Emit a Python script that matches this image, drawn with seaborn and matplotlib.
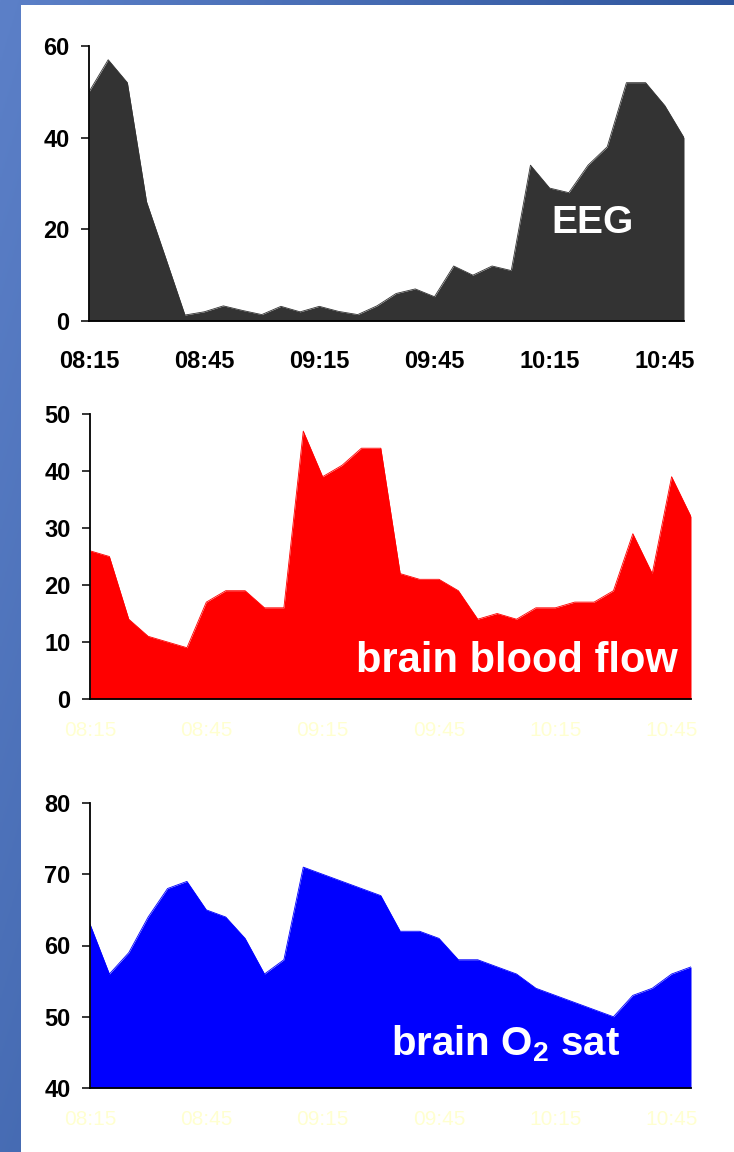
import numpy as np
import matplotlib
matplotlib.use("Agg")
import matplotlib.pyplot as plt
from matplotlib.patches import Rectangle
import pandas as pd
import seaborn as sns

# 5-minute samples, 08:15 .. 10:50
times = [
    "08:15", "08:20", "08:25", "08:30", "08:35", "08:40", "08:45", "08:50",
    "08:55", "09:00", "09:05", "09:10", "09:15", "09:20", "09:25", "09:30",
    "09:35", "09:40", "09:45", "09:50", "09:55", "10:00", "10:05", "10:10",
    "10:15", "10:20", "10:25", "10:30", "10:35", "10:40", "10:45", "10:50",
]
eeg = [50, 57, 52, 26, 13.7, 1.3, 2, 3.3, 2.3, 1.4, 3.2, 2, 3.2, 2.1, 1.4, 3.3,
       6, 7, 5.3, 12, 10, 12, 11, 34, 29, 28, 34, 38, 52, 52, 47, 40]
blood_flow = [26, 25, 14, 11, 10, 9, 17, 19, 19, 16, 16, 47, 39, 41, 44, 44,
              22, 21, 21, 19, 14, 15, 14, 16, 16, 17, 17, 19, 29, 22, 39, 32]
o2_sat = [63, 56, 59, 64, 68, 69, 65, 64, 61, 56, 58, 71, 70, 69, 68, 67,
          62, 62, 61, 58, 58, 57, 56, 54, 53, 52, 51, 50, 53, 54, 56, 57]

label_every = 6

sns.set_theme(style="white")
plt.rcParams["font.family"] = ["Liberation Sans", "DejaVu Sans"]
plt.rcParams["mathtext.fontset"] = "custom"
plt.rcParams["mathtext.rm"] = "Liberation Sans:bold"
plt.rcParams["mathtext.it"] = "Liberation Sans:bold"
plt.rcParams["mathtext.bf"] = "Liberation Sans:bold"

W, H = 734, 1152
fig = plt.figure(figsize=(W / 100, H / 100), dpi=100, facecolor="white")

# slide-style background: blue gradient strip on the left and top
bg = fig.add_axes([0, 0, 1, 1], zorder=-10)
u = np.linspace(0, 1, 300)[None, :]
v = np.linspace(0, 1, 300)[:, None]
t = np.clip(0.85 * u + 0.4 * v, 0, 1)[..., None]
light = np.array([0x5C, 0x80, 0xC8]) / 255
dark = np.array([0x28, 0x4F, 0x96]) / 255
bg.imshow(light * (1 - t) + dark * t, extent=[0, 1, 0, 1], aspect="auto")
bg.add_patch(Rectangle((21 / W, 0), 1, 1 - 5 / H, color="white", lw=0))
bg.set_xlim(0, 1)
bg.set_ylim(0, 1)
bg.axis("off")


def panel(box, values, color, ylim, yticks, label, label_pos, label_size,
          xlab_color, xlab_weight, xlab_size, xpad):
    l, r, top, bot = box
    ax = fig.add_axes([l / W, 1 - bot / H, (r - l) / W, (bot - top) / H])
    df = pd.DataFrame({"i": range(len(times)), "v": values})
    sns.lineplot(data=df, x="i", y="v", color=color, lw=0.6, ax=ax)
    ax.fill_between(df["i"], ylim[0], df["v"], color=color, lw=0)
    ax.set_xlim(0, len(times) - 1)
    ax.set_ylim(*ylim)
    ax.set_yticks(yticks)
    ax.set_yticklabels([str(y) for y in yticks], fontsize=17, fontweight="bold")
    xt = list(range(0, len(times), label_every))
    ax.set_xticks(xt)
    ax.set_xticklabels([times[k] for k in xt], fontsize=xlab_size,
                       fontweight=xlab_weight, color=xlab_color)
    ax.set_xlabel("")
    ax.set_ylabel("")
    ax.set_facecolor("none")
    for s in ["top", "right"]:
        ax.spines[s].set_visible(False)
    for s in ["left", "bottom"]:
        ax.spines[s].set_color("black")
        ax.spines[s].set_linewidth(1.3)
    ax.tick_params(axis="y", left=True, length=6, width=1.1, color="black",
                   pad=8, labelcolor="black")
    ax.tick_params(axis="x", bottom=False, length=0, pad=xpad)
    ax.text(label_pos[0], label_pos[1], label, transform=ax.transAxes,
            ha="center", va="baseline", color="white", fontsize=label_size,
            fontweight="bold")
    return ax


panel((89, 684, 46, 321), eeg, "#333333", (0, 60), [0, 20, 40, 60],
      "EEG", (0.847, 0.32), 28, "black", "bold", 17, 21)
panel((90, 691, 414, 699), blood_flow, "#FF0000", (0, 50),
      [0, 10, 20, 30, 40, 50], "brain blood flow", (0.71, 0.095), 30,
      "#FFFFD0", "normal", 15, 16)
panel((90, 691, 803, 1088), o2_sat, "#0000FF", (40, 80), [40, 50, 60, 70, 80],
      r"brain O$_2$ sat", (0.692, 0.116), 29, "#FFFFD0", "normal", 15, 16)

fig.savefig("out.png", dpi=100, facecolor="white")
